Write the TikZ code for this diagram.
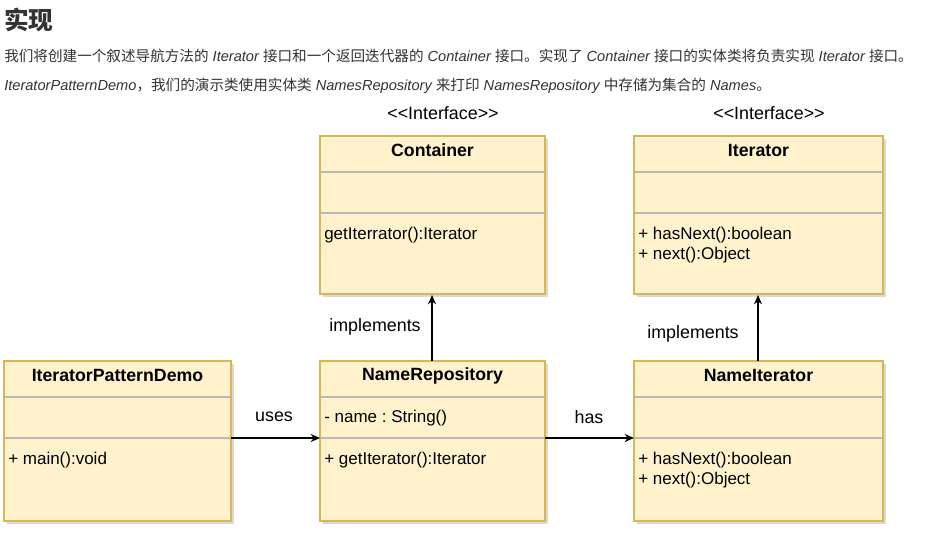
\documentclass[tikz,border=0pt]{standalone}
\usepackage{fontspec}
\usetikzlibrary{arrows.meta}
\setmainfont{Liberation Sans}
\newfontfamily\cjk{Noto Sans CJK SC}
\definecolor{boxfill}{HTML}{FFF2CC}
\definecolor{boxdraw}{HTML}{D6B656}
\definecolor{divline}{HTML}{B8B8B8}
\definecolor{txtgray}{HTML}{333333}
\newcommand{\zh}[1]{{\cjk #1}}
\newcommand{\en}[1]{{\itshape #1}}
\frenchspacing
\begin{document}
\begin{tikzpicture}[x=0.75pt,y=-0.75pt,
  boxtext/.style={font=\fontsize{12.75}{15}\selectfont, inner sep=0pt, anchor=west},
  headtext/.style={font=\fontsize{13.3}{15}\selectfont\bfseries, inner sep=0pt},
  lbl/.style={font=\fontsize{13.4}{15}\selectfont, inner sep=0pt},
  conn/.style={draw=black, line width=0.9pt, -{Stealth[length=7pt,width=6pt]}},
  para/.style={font=\fontsize{10.95}{12}\selectfont, text=txtgray, inner sep=0pt, anchor=west}
]
\useasboundingbox (0,0) rectangle (946,537);
\fill[white] (0,0) rectangle (946,537);

% header texts
\node[anchor=west, inner sep=0pt, text=txtgray, font=\fontsize{18.5}{20}\selectfont\bfseries] (title) at (4,20) {\zh{实现}};
\node[para] (p1) at (4,56) {\zh{我们将创建一个叙述导航方法的} \en{Iterator} \zh{接口和一个返回迭代器的} \en{Container} \zh{接口。实现了} \en{Container} \zh{接口的实体类将负责实现} \en{Iterator} \zh{接口。}};
\node[para] (p2) at (4,86) {\en{IteratorPatternDemo}\zh{，我们的演示类使用实体类} \en{NamesRepository} \zh{来打印} \en{NamesRepository} \zh{中存储为集合的} \en{Names}\zh{。}};

% class box macro
\newcommand{\umlbox}[7]{% name, x1, y1, x2, y2, title, id
  \fill[gray!30] (#2+2.5,#3+2.5) rectangle (#4+2.5,#5+2.5);
  \draw[fill=boxfill, draw=boxdraw, line width=1.6pt] (#2,#3) rectangle (#4,#5);
  \draw[divline, line width=1pt] (#2+1,#3+36) -- (#4-1,#3+36);
  \draw[divline, line width=1pt] (#2+1,#3+77) -- (#4-1,#3+77);
  \coordinate (#1) at (#2,#3);
  \node[headtext] (#7) at ({(#2+#4)/2},#3+14.5) {#6};
}

\umlbox{container}{320}{136}{545}{294}{Container}{containerT}
\umlbox{iterator}{634}{136}{883}{294}{Iterator}{iteratorT}
\umlbox{demo}{4}{361}{231}{521}{IteratorPatternDemo}{demoT}
\umlbox{repo}{320}{361}{545}{521}{NameRepository}{repoT}
\umlbox{niter}{634}{361}{883}{521}{NameIterator}{niterT}

% named anchor points for connectors
\coordinate (containerB) at (432,295);
\coordinate (repoTop) at (432,361);
\coordinate (iteratorB) at (758,295);
\coordinate (niterTop) at (758,361);
\coordinate (demoR) at (231,438);
\coordinate (repoL) at (320,438);
\coordinate (repoR) at (545,438);
\coordinate (niterL) at (634,438);

% members
\node[boxtext] (cm1) at (324,235) {getIterrator():Iterator};
\node[boxtext] (im1) at (638,235) {+ hasNext():boolean};
\node[boxtext] (im2) at (638,255) {+ next():Object};
\node[boxtext] (dm1) at (8,460) {+ main():void};
\node[boxtext] (ra1) at (324,418) {- name : String()};
\node[boxtext] (rm1) at (324,460) {+ getIterator():Iterator};
\node[boxtext] (nm1) at (638,460) {+ hasNext():boolean};
\node[boxtext] (nm2) at (638,480) {+ next():Object};

% stereotypes
\node[lbl] (st1) at (443,113) {\symbol{60}\symbol{60}Interface\symbol{62}\symbol{62}};
\node[lbl] (st2) at (769,113) {\symbol{60}\symbol{60}Interface\symbol{62}\symbol{62}};

% connectors
\draw[conn] (repoTop) -- (containerB);
\draw[conn] (niterTop) -- (iteratorB);
\draw[conn] (demoR) -- (repoL);
\draw[conn] (repoR) -- (niterL);

% connector labels
\node[lbl] (l1) at (375,327) {implements};
\node[lbl] (l2) at (693,334) {implements};
\node[lbl] (l3) at (274,417) {uses};
\node[lbl] (l4) at (589,417) {has};
\end{tikzpicture}
\end{document}
